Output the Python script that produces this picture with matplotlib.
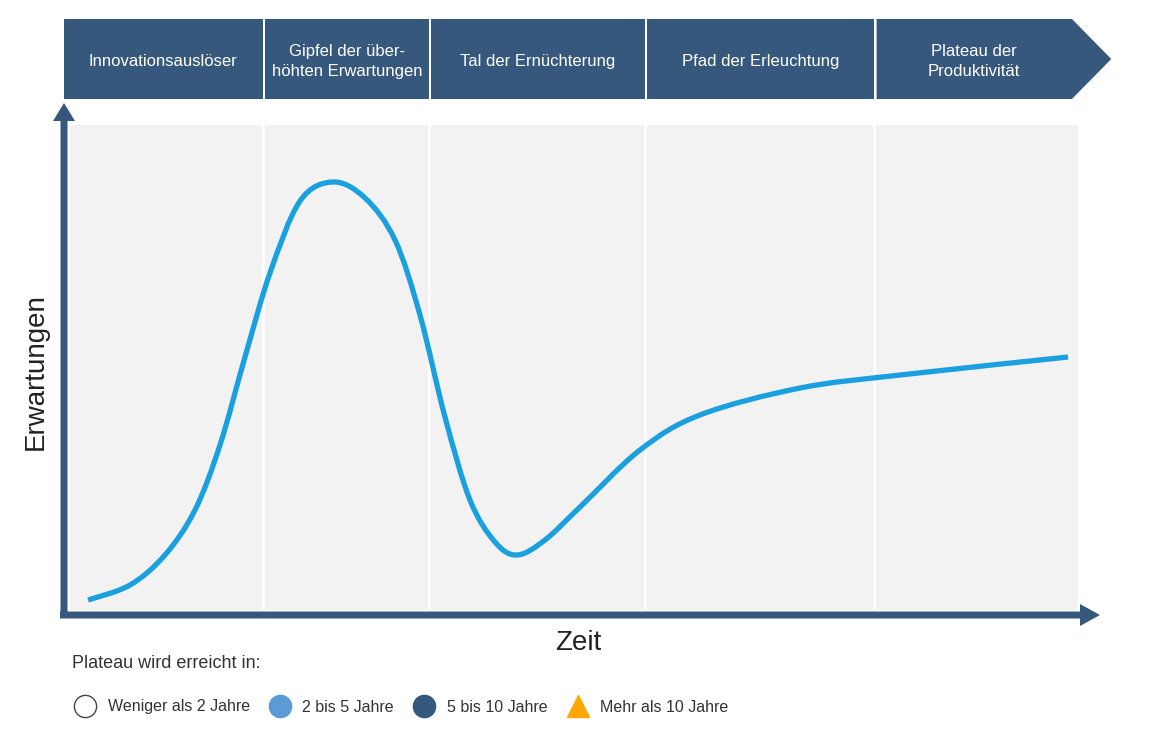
import matplotlib
matplotlib.use('Agg')
import matplotlib.pyplot as plt
from matplotlib.patches import Polygon, FancyArrow, PathPatch
from matplotlib.path import Path
from matplotlib.lines import Line2D

plt.rcParams['font.family'] = ['Liberation Sans', 'DejaVu Sans']

# phases of the hype cycle (time units 0..100)
phases = ['Innovationsauslöser', 'Gipfel der über-\nhöhten Erwartungen',
          'Tal der Ernüchterung', 'Pfad der Erleuchtung', 'Plateau der\nProduktivität']
phase_edges = [-0.6, 19.1, 35.6, 57.0, 79.8, 99.4]

# the curve
time = [1.79, 5.95, 9.42, 12.40, 14.88, 17.36, 19.84, 22.82, 26.09, 29.27, 32.24,
        34.72, 37.20, 39.68, 42.16, 44.35, 47.12, 50.60, 56.55, 62.50, 72.42,
        82.34, 99.01]
expectation = [2.06, 5.15, 11.34, 20.62, 34.02, 52.16, 69.48, 84.33, 88.25, 84.95,
               76.29, 60.82, 39.79, 22.68, 14.02, 11.34, 14.43, 21.24, 32.99, 40.21,
               45.77, 48.45, 52.16]

legend_labels = ['Weniger als 2 Jahre', '2 bis 5 Jahre', '5 bis 10 Jahre', 'Mehr als 10 Jahre']
legend_colors = ['white', '#5b9bd5', '#35587c', '#ffa500']
legend_markers = ['o', 'o', 'o', '^']

dark = '#35587c'
curve_c = '#1a9fdf'


def smooth_path(xs, ys):
    """Catmull-Rom style bezier path through the given points."""
    pts = list(zip(xs, ys))
    verts = [pts[0]]
    codes = [Path.MOVETO]
    n = len(pts)
    for i in range(n - 1):
        p0 = pts[max(i - 1, 0)]
        p1 = pts[i]
        p2 = pts[i + 1]
        p3 = pts[min(i + 2, n - 1)]
        c1 = (p1[0] + (p2[0] - p0[0]) / 6, p1[1] + (p2[1] - p0[1]) / 6)
        c2 = (p2[0] - (p3[0] - p1[0]) / 6, p2[1] - (p3[1] - p1[1]) / 6)
        verts += [c1, c2, p2]
        codes += [Path.CURVE4] * 3
    return Path(verts, codes)


fig = plt.figure(figsize=(11.6, 7.33), dpi=100)
W, H = 1160, 733

# plot panel
ax = fig.add_axes([70 / W, 1 - 610 / H, 1008 / W, 485 / H])
ax.set_facecolor('#f2f2f2')
ax.set_xlim(0, 100)
ax.set_ylim(0, 100)
ax.set_xticks([])
ax.set_yticks([])
for s in ax.spines.values():
    s.set_visible(False)
for e in phase_edges[1:-1]:
    ax.axvline(e, color='white', lw=2, zorder=1)
ax.add_patch(PathPatch(smooth_path(time, expectation), fill=False, edgecolor=curve_c,
                       lw=3.8, capstyle='butt', joinstyle='round', zorder=3))

# header band with the phase names
tr = ax.get_xaxis_transform()
y0, y1 = 1.0536, 1.2186
ym = (y0 + y1) / 2
gap = 0.22
for i, name in enumerate(phases):
    a, b = phase_edges[i] + (gap if i else 0), phase_edges[i + 1]
    if i == len(phases) - 1:
        pts = [(a, y0), (b, y0), (103.3, ym), (b, y1), (a, y1)]
    else:
        pts = [(a, y0), (b, y0), (b, y1), (a, y1)]
    ax.add_patch(Polygon(pts, closed=True, transform=tr, facecolor=dark, lw=0,
                         clip_on=False))
    ax.text((a + b) / 2, ym - 0.005, name, transform=tr, ha='center', va='center',
            color='white', fontsize=12, linespacing=1.45)

# overlay in pixel coordinates for the axis arrows
ov = fig.add_axes([0, 0, 1, 1])
ov.set_xlim(0, W)
ov.set_ylim(H, 0)
ov.axis('off')
ov.add_patch(FancyArrow(64, 618, 0, -515, width=7, head_width=22, head_length=18,
                        length_includes_head=True, color=dark, lw=0))
ov.add_patch(FancyArrow(60, 615, 1040, 0, width=7, head_width=22, head_length=20,
                        length_includes_head=True, color=dark, lw=0))

fig.text(36 / W, 1 - 372 / H, 'Erwartungen', rotation=90, ha='center', va='center',
         fontsize=20, color='#222222')
fig.text(578 / W, 1 - 643 / H, 'Zeit', ha='center', va='center', fontsize=20,
         color='#222222')

fig.text(72 / W, 1 - 664 / H, 'Plateau wird erreicht in:', ha='left', va='center',
         fontsize=13, color='#333333')
handles = [Line2D([], [], ls='none', marker=m, markersize=16, markerfacecolor=c,
                  markeredgecolor='#444444' if c == 'white' else c, markeredgewidth=1)
           for m, c in zip(legend_markers, legend_colors)]
fig.legend(handles, legend_labels, loc='center left', ncol=4, frameon=False,
           bbox_to_anchor=(74 / W, 1 - 707 / H), borderpad=0, borderaxespad=0,
           handlelength=1.4, handletextpad=0.7, columnspacing=1.2, fontsize=11.5,
           labelcolor='#333333')

fig.savefig('out.png', dpi=100)
